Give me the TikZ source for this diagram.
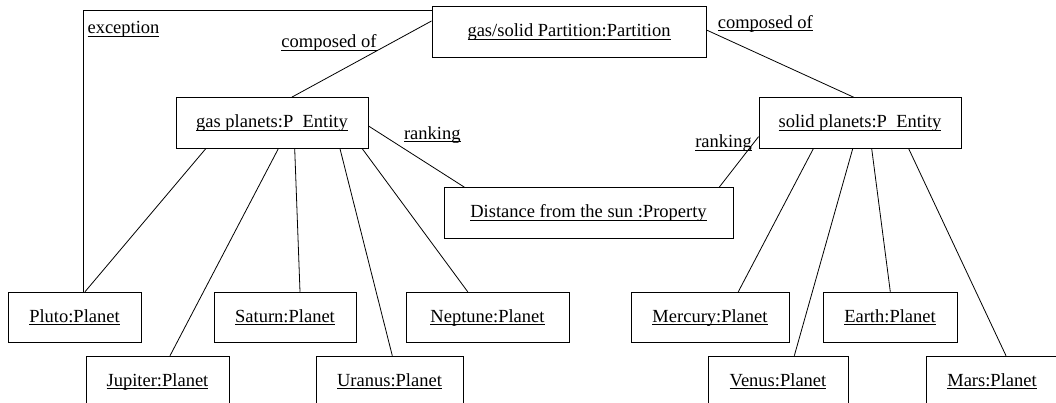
\documentclass[tikz,border=0pt]{standalone}
\usepackage{fontspec}
\setmainfont{Liberation Serif}
\usepackage{tikz}
\newcommand{\boxheight}{50.5}
\newcommand{\thin}{0.8pt}
\newcommand{\ulabel}[1]{\setbox0\hbox{#1}\rlap{\rule[-2.6pt]{\wd0}{0.8pt}}\box0}

\begin{document}
\begin{tikzpicture}[x=1pt, y=-1pt, font=\fontsize{18.5}{21}\selectfont,
  obj/.style={draw, line width=1pt, minimum height=\boxheight, inner sep=0pt, text height=13pt, text depth=3pt},
  tag/.style={anchor=base, inner sep=0pt}]
\clip (0,0) rectangle (1056,403);
%objects
\node[obj] (part) at (569, 32) [minimum width=274] {\ulabel{gas/solid Partition:Partition}};
\node[obj] (gas) at (272, 123) [minimum width=192] {\ulabel{gas planets:P\ \ Entity}};
\node[obj] (solid) at (860, 123) [minimum width=202] {\ulabel{solid planets:P\ \ Entity}};
\node[obj] (dist) at (588.5, 213) [minimum width=289] {\ulabel{Distance from the sun :Property}};
\node[obj] (pluto) at (74.5, 317.5) [minimum width=133] {\ulabel{Pluto:Planet}};
\node[obj] (saturn) at (285, 317.5) [minimum width=142] {\ulabel{Saturn:Planet}};
\node[obj] (neptune) at (487.5, 317.5) [minimum width=163] {\ulabel{Neptune:Planet}};
\node[obj] (mercury) at (710, 317.5) [minimum width=158] {\ulabel{Mercury:Planet}};
\node[obj] (earth) at (890, 317.5) [minimum width=134] {\ulabel{Earth:Planet}};
\node[obj] (jupiter) at (157.5, 381.5) [minimum width=143] {\ulabel{Jupiter:Planet}};
\node[obj] (uranus) at (389.5, 381.5) [minimum width=147] {\ulabel{Uranus:Planet}};
\node[obj] (venus) at (778, 381.5) [minimum width=140] {\ulabel{Venus:Planet}};
\node[obj] (mars) at (992, 381.5) [minimum width=132] {\ulabel{Mars:Planet}};
%links
\draw[line width=\thin] ([xshift=8.8pt]pluto.north) |- ([yshift=-3.7pt]part.north west);
\draw[line width=\thin] ([yshift=11pt]part.west) -- ([xshift=19.7pt]gas.north);
\draw[line width=\thin] ([yshift=2pt]part.east) -- ([xshift=-6.3pt]solid.north);
\draw[line width=\thin] ([yshift=-3pt]gas.east) -- ([xshift=21pt]dist.north west);
\draw[line width=\thin] ([yshift=-13.7pt]solid.west) -- ([xshift=-14.3pt]dist.north east);
\draw[line width=\thin] ([xshift=-66.3pt]gas.south) -- ([xshift=10.5pt]pluto.north);
\draw[line width=\thin] ([xshift=6.3pt]gas.south) -- ([xshift=12.5pt]jupiter.north);
\draw[line width=\thin] ([xshift=22.7pt]gas.south) -- ([xshift=15pt]saturn.north);
\draw[line width=\thin] ([xshift=68pt]gas.south) -- ([xshift=2.8pt]uranus.north);
\draw[line width=\thin] ([xshift=90.3pt]gas.south) -- ([xshift=-19.8pt]neptune.north);
\draw[line width=\thin] ([xshift=-46.7pt]solid.south) -- ([xshift=28.3pt]mercury.north);
\draw[line width=\thin] ([xshift=-7.3pt]solid.south) -- ([xshift=16.3pt]venus.north);
\draw[line width=\thin] ([xshift=11.7pt]solid.south) -- ([xshift=0.3pt]earth.north);
\draw[line width=\thin] ([xshift=48.7pt]solid.south) -- ([xshift=14pt]mars.north);
%labels
\node[tag] (exc) at (123.5, 34) {\ulabel{exception}};
\node[tag] (compl) at (329, 48) {\ulabel{composed of}};
\node[tag] (compr) at (765.3, 28.7) {\ulabel{composed of}};
\node[tag] (rankl) at (432.3, 139.7) {\ulabel{ranking}};
\node[tag] (rankr) at (723.5, 148) {\ulabel{ranking}};
\end{tikzpicture}
\end{document}
